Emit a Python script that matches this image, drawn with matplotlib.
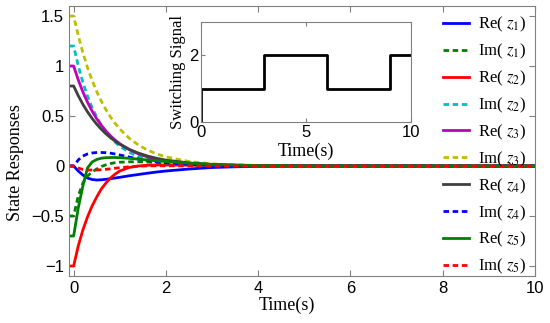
import numpy as np
import matplotlib
matplotlib.use("Agg")
import matplotlib.pyplot as plt

plt.rcParams["mathtext.fontset"] = "stix"
plt.rcParams["font.family"] = "Liberation Sans"

#  Sampled time axis (the first point is the initial history before t=0)
t = [-0.1, 0, 0.1, 0.2, 0.3, 0.4, 0.5, 0.6, 0.7, 0.8, 0.9, 1.0, 1.2, 1.4,
     1.6, 1.8, 2.0, 2.5, 3.0, 3.5, 4.0, 5.0, 6.0, 8.0, 10.0]

re_z1 = [0, 0, -0.05, -0.09, -0.12, -0.135, -0.14, -0.138, -0.133, -0.127,
         -0.12, -0.113, -0.098, -0.085, -0.072, -0.06, -0.05, -0.03, -0.015,
         -0.008, -0.004, -0.001, 0, 0, 0]
im_z1 = [-0.5, -0.5, -0.3, -0.17, -0.1, -0.06, -0.03, -0.005, 0.012, 0.025,
         0.033, 0.038, 0.042, 0.042, 0.04, 0.036, 0.032, 0.022, 0.014, 0.008,
         0.005, 0.001, 0, 0, 0]
re_z2 = [-1, -1, -0.8, -0.64, -0.51, -0.4, -0.31, -0.23, -0.17, -0.12, -0.08,
         -0.05, -0.015, 0.0, 0.008, 0.01, 0.01, 0.008, 0.005, 0.003, 0.002,
         0, 0, 0, 0]
im_z2 = [1.2, 1.2, 1.002, 0.837, 0.699, 0.584, 0.488, 0.407, 0.34, 0.284,
         0.237, 0.198, 0.138, 0.096, 0.067, 0.047, 0.033, 0.013, 0.005, 0.002,
         0.001, 0, 0, 0, 0]
re_z3 = [1, 1, 0.861, 0.741, 0.638, 0.549, 0.472, 0.407, 0.35, 0.301, 0.259,
         0.223, 0.165, 0.122, 0.091, 0.067, 0.05, 0.024, 0.011, 0.005, 0.002,
         0.001, 0, 0, 0]
im_z3 = [1.5, 1.5, 1.304, 1.134, 0.986, 0.857, 0.745, 0.648, 0.563, 0.49,
         0.426, 0.37, 0.28, 0.211, 0.16, 0.121, 0.091, 0.045, 0.022, 0.011,
         0.005, 0.001, 0, 0, 0]
re_z4 = [0.8, 0.8, 0.703, 0.617, 0.542, 0.476, 0.418, 0.367, 0.322, 0.283,
         0.248, 0.218, 0.168, 0.13, 0.1, 0.077, 0.059, 0.031, 0.016, 0.008,
         0.004, 0.001, 0, 0, 0]
im_z4 = [0, 0, 0.06, 0.1, 0.12, 0.13, 0.135, 0.135, 0.133, 0.128, 0.12, 0.11,
         0.09, 0.07, 0.055, 0.042, 0.032, 0.015, 0.007, 0.003, 0.001, 0, 0,
         0, 0]
re_z5 = [-0.7, -0.7, -0.42, -0.2, -0.02, 0.04, 0.065, 0.078, 0.083, 0.085,
         0.085, 0.083, 0.077, 0.069, 0.06, 0.052, 0.045, 0.028, 0.016, 0.009,
         0.005, 0.001, 0, 0, 0]
im_z5 = [0, 0, -0.02, -0.035, -0.04, -0.04, -0.04, -0.037, -0.033, -0.028,
         -0.022, -0.017, -0.008, -0.002, 0.001, 0.002, 0.002, 0.001, 0, 0, 0,
         0, 0, 0, 0]

#  Switching signal: switching instants and active mode
sw_time = [0, 3, 6, 9, 10]
sw_mode = [1, 2, 1, 2, 2]

series = [
    (re_z1, "-", (0, 0, 1), r"Re( $z_{1}$)"),
    (im_z1, "--", (0, 0.5, 0), r"Im( $z_{1}$)"),
    (re_z2, "-", (1, 0, 0), r"Re( $z_{2}$)"),
    (im_z2, "--", (0, 0.75, 0.75), r"Im( $z_{2}$)"),
    (re_z3, "-", (0.75, 0, 0.75), r"Re( $z_{3}$)"),
    (im_z3, "--", (0.75, 0.75, 0), r"Im( $z_{3}$)"),
    (re_z4, "-", (0.25, 0.25, 0.25), r"Re( $z_{4}$)"),
    (im_z4, "--", (0, 0, 1), r"Im( $z_{4}$)"),
    (re_z5, "-", (0, 0.5, 0), r"Re( $z_{5}$)"),
    (im_z5, "--", (1, 0, 0), r"Im( $z_{5}$)"),
]

fig = plt.figure(figsize=(5.5, 3.23), dpi=100)
ax = fig.add_axes([0.1255, 0.1455, 0.8472, 0.8359])

for vals, ls, col, lab in series:
    if ls == "--":
        ax.plot(t, vals, ls, color=col, lw=2, dashes=(2, 1.3), label=lab)
    else:
        ax.plot(t, vals, ls, color=col, lw=2, label=lab)

ax.set_xlim(-0.1, 10)
ax.set_ylim(-1.1, 1.6)
ax.set_xticks([0, 2, 4, 6, 8, 10])
ax.set_yticks([-1, -0.5, 0, 0.5, 1, 1.5])
ax.set_yticklabels(["\u22121", "\u22120.5", "0", "0.5", "1", "1.5"])
ax.tick_params(direction="in", top=True, right=True, labelsize=12,
               length=4, color="0.5")
for s in ax.spines.values():
    s.set_color("0.5")

ax.set_xlabel("Time(s)", family="Liberation Serif", fontsize=13)
ax.set_ylabel("State Responses", family="Liberation Serif", fontsize=13)
ax.xaxis.set_label_coords(0.468, -0.075)
ax.yaxis.set_label_coords(-0.097, 0.42)

leg = ax.legend(loc="upper right", bbox_to_anchor=(1.0, 1.0), frameon=False,
                prop={"family": "Liberation Serif", "size": 12},
                handlelength=1.6, handletextpad=0.5, labelspacing=0.46,
                borderaxespad=0.15)

#  Inset with the switching signal
axin = fig.add_axes([0.3655, 0.622, 0.3818, 0.31])
axin.step(sw_time, sw_mode, where="post", color="k", lw=2)
axin.vlines(sw_time[0], 0, sw_mode[0], color="k", lw=2)
axin.set_xlim(0, 10)
axin.set_ylim(0, 3)
axin.set_xticks([0, 5, 10])
axin.set_yticks([0, 2])
axin.tick_params(direction="in", top=True, right=True, labelsize=12,
                 length=3, color="0.5", pad=2)
for s in axin.spines.values():
    s.set_color("0.5")
axin.set_xlabel("Time(s)", family="Liberation Serif", fontsize=13, labelpad=2)
axin.set_ylabel("Switching Signal", family="Liberation Serif", fontsize=12,
                labelpad=2)

fig.savefig("out.png", dpi=100)
